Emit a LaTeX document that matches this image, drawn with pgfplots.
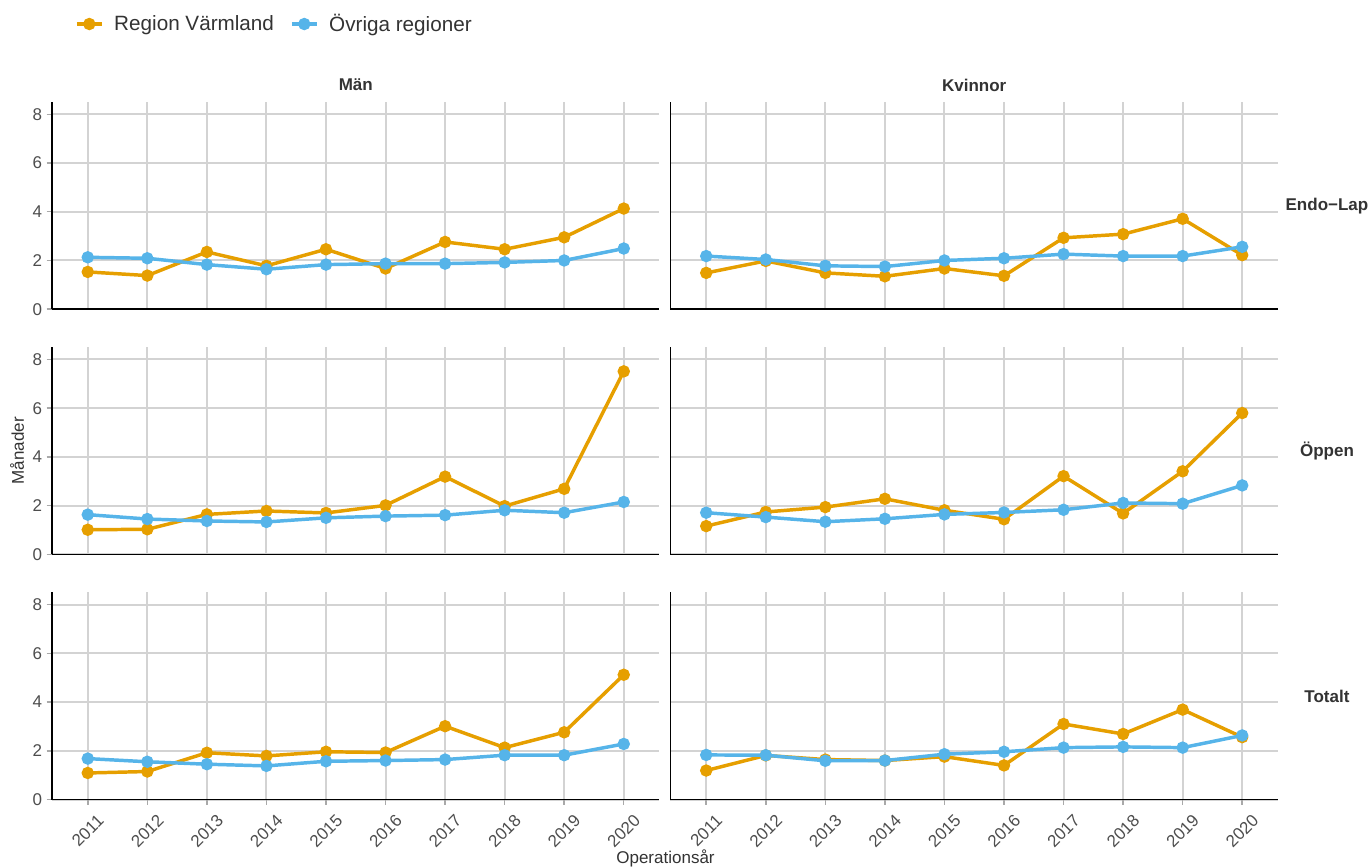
\documentclass[border=0pt]{standalone}
\usepackage{pgfplots}
\pgfplotsset{compat=1.18}
\usepgfplotslibrary{groupplots}
\usepackage{fontspec}
\setmainfont{Liberation Sans}
\definecolor{orng}{HTML}{E69F00}
\definecolor{blu}{HTML}{56B4E9}
\definecolor{gridc}{HTML}{D3D3D3}
\definecolor{tickc}{HTML}{4D4D4D}
\definecolor{txtc}{HTML}{333333}
\newcommand{\fs}{\fontsize{12.75}{15}\selectfont}
\pgfplotsset{
  panel/.style={
    width=455.25pt, height=155.25pt, scale only axis,
    xmin=2010.4, xmax=2020.6, ymin=0, ymax=8.5,
    xtick={2011,...,2020}, ytick={0,2,4,6,8},
    xmajorgrids, ymajorgrids,
    major grid style={draw=gridc, line width=1.5pt},
    axis lines*=left, axis line style={-, black, line width=1.1pt},
    tick style={draw=gridc!80!black, line width=1.1pt},
    major tick length=4pt, tick align=outside,
    ticklabel style={font=\fs, text=tickc},
    xticklabel style={anchor=center, yshift=-19.5pt, rotate=45},
    /pgf/number format/1000 sep={}, /pgf/number format/assume math mode=true,
    clip mode=individual,
    title style={font=\fs\bfseries, text=txtc, at={(0.5,1)}, anchor=center, yshift=6.75pt},
  },
  ser/.style={line width=2.6pt, mark=*, mark size=3.3pt, solid},
}
\newcommand{\strip}[1]{\node[font=\fs\bfseries, text=txtc, xshift=36.75pt] at (rel axis cs:1,0.5) {#1};}
\begin{document}
\begin{tikzpicture}
\begin{groupplot}[group style={group name=G, group size=2 by 3, horizontal sep=8.25pt, vertical sep=28.5pt, xticklabels at=edge bottom, yticklabels at=edge left}, panel]
% Row 1: Endo-Lap
\nextgroupplot[title={Män}, xtick style={draw=none},
  legend columns=2,
  legend style={at={(axis description cs:0.0375,1.3768)}, anchor=west, draw=none, fill=none, inner sep=0pt,
    font=\fontsize{15.5}{18}\selectfont, text=txtc, nodes={inner sep=0pt},
    /tikz/every odd column/.append style={column sep=8pt},
    /tikz/every even column/.append style={column sep=12pt}},
  legend image code/.code={\draw[#1, mark repeat=2, mark phase=2] plot coordinates {(0pt,0pt) (9.375pt,0pt) (18.75pt,0pt)};}]
\addplot[ser, orng] coordinates {(2011,1.53) (2012,1.38) (2013,2.35) (2014,1.78) (2015,2.46) (2016,1.67) (2017,2.76) (2018,2.46) (2019,2.95) (2020,4.13)};
\addlegendentry{Region Värmland}
\addplot[ser, blu] coordinates {(2011,2.13) (2012,2.09) (2013,1.83) (2014,1.64) (2015,1.83) (2016,1.87) (2017,1.87) (2018,1.92) (2019,2.00) (2020,2.49)};
\addlegendentry{Övriga regioner}
\nextgroupplot[title={Kvinnor}, xtick style={draw=none}, ytick style={draw=none}]
\addplot[ser, orng] coordinates {(2011,1.49) (2012,1.98) (2013,1.49) (2014,1.35) (2015,1.67) (2016,1.37) (2017,2.93) (2018,3.08) (2019,3.71) (2020,2.22)};
\addplot[ser, blu] coordinates {(2011,2.18) (2012,2.04) (2013,1.78) (2014,1.75) (2015,2.00) (2016,2.09) (2017,2.26) (2018,2.18) (2019,2.18) (2020,2.56)};
\strip{Endo−Lap}
% Row 2: Öppen
\nextgroupplot[xtick style={draw=none}, ylabel={Månader},
  ylabel style={font=\fs, text=txtc, at={(axis description cs:-0.0577,0.5)}, anchor=center}]
\addplot[ser, orng] coordinates {(2011,1.01) (2012,1.03) (2013,1.64) (2014,1.78) (2015,1.70) (2016,2.01) (2017,3.19) (2018,1.98) (2019,2.69) (2020,7.51)};
\addplot[ser, blu] coordinates {(2011,1.63) (2012,1.45) (2013,1.37) (2014,1.33) (2015,1.50) (2016,1.57) (2017,1.61) (2018,1.81) (2019,1.71) (2020,2.15)};
\nextgroupplot[xtick style={draw=none}, ytick style={draw=none}]
\addplot[ser, orng] coordinates {(2011,1.16) (2012,1.74) (2013,1.94) (2014,2.28) (2015,1.81) (2016,1.44) (2017,3.21) (2018,1.68) (2019,3.41) (2020,5.80)};
\addplot[ser, blu] coordinates {(2011,1.71) (2012,1.53) (2013,1.34) (2014,1.46) (2015,1.64) (2016,1.72) (2017,1.83) (2018,2.11) (2019,2.08) (2020,2.83)};
\strip{Öppen}
% Row 3: Totalt
\nextgroupplot[xlabel={Operationsår},
  xlabel style={font=\fs, text=txtc, at={(axis description cs:1.0099,0)}, anchor=center, yshift=-44.25pt}]
\addplot[ser, orng] coordinates {(2011,1.09) (2012,1.15) (2013,1.92) (2014,1.79) (2015,1.96) (2016,1.93) (2017,3.01) (2018,2.13) (2019,2.76) (2020,5.12)};
\addplot[ser, blu] coordinates {(2011,1.68) (2012,1.55) (2013,1.45) (2014,1.38) (2015,1.57) (2016,1.60) (2017,1.64) (2018,1.82) (2019,1.82) (2020,2.28)};
\nextgroupplot[ytick style={draw=none}]
\addplot[ser, orng] coordinates {(2011,1.19) (2012,1.81) (2013,1.64) (2014,1.60) (2015,1.76) (2016,1.40) (2017,3.10) (2018,2.69) (2019,3.69) (2020,2.56)};
\addplot[ser, blu] coordinates {(2011,1.83) (2012,1.82) (2013,1.59) (2014,1.60) (2015,1.86) (2016,1.96) (2017,2.13) (2018,2.16) (2019,2.13) (2020,2.63)};
\strip{Totalt}
\end{groupplot}
\pgfresetboundingbox
\path ([shift={(-39pt,76.5pt)}]G c1r1.north west) rectangle ([shift={(69.75pt,-51pt)}]G c2r3.south east);
\end{tikzpicture}
\end{document}
